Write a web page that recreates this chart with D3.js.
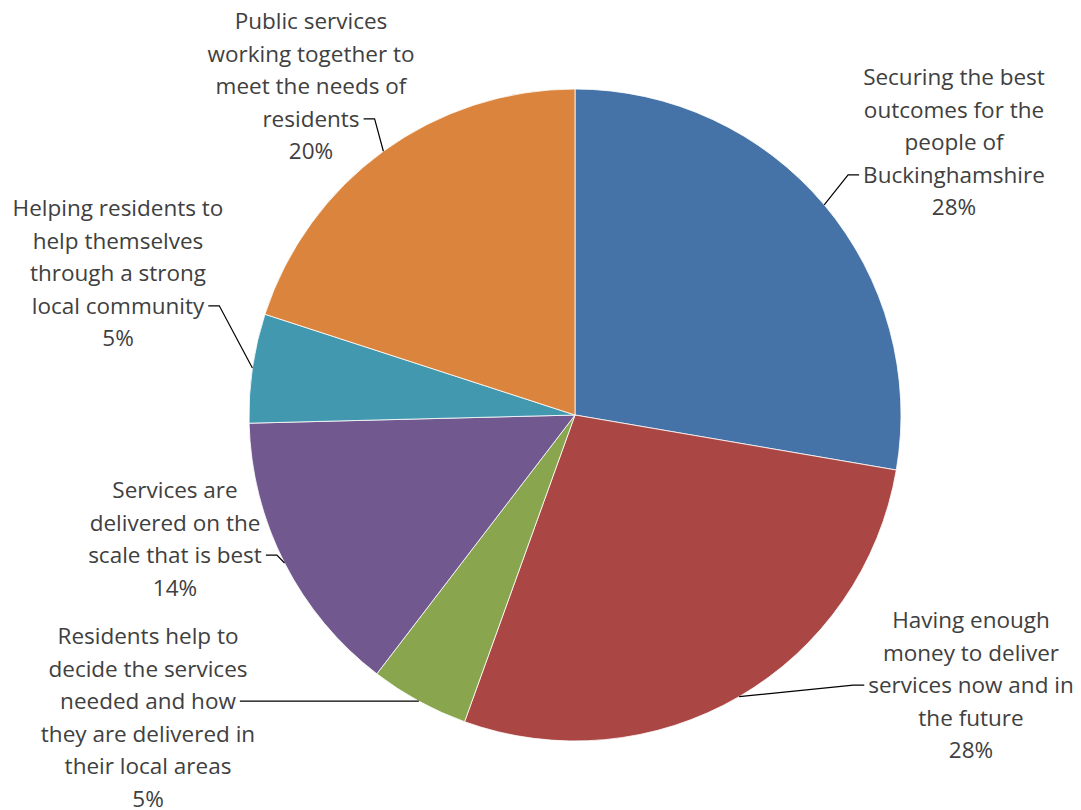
<!DOCTYPE html>
<html><head><meta charset="utf-8">
<script src="https://cdn.jsdelivr.net/npm/d3@7"></script>
<style>html,body{margin:0;padding:0;background:#fff;}svg{display:block;}</style>
</head><body>
<svg id="chart" width="1081" height="810"></svg>
<script>
const categories = [
  "Securing the best outcomes for the people of Buckinghamshire",
  "Having enough money to deliver services now and in the future",
  "Residents help to decide the services needed and how they are delivered in their local areas",
  "Services are delivered on the scale that is best",
  "Helping residents to help themselves through a strong local community",
  "Public services working together to meet the needs of residents"
];
const values = [27.7, 27.8, 4.9, 14.2, 5.4, 20.0];
const colors = ["#4572A7", "#AA4643", "#89A54E", "#71588F", "#4198AF", "#DB843D"];
// wrapped label lines as they appear
const labelLines = [
  ["Securing the best", "outcomes for the", "people of", "Buckinghamshire"],
  ["Having enough", "money to deliver", "services now and in", "the future"],
  ["Residents help to", "decide the services", "needed and how", "they are delivered in", "their local areas"],
  ["Services are", "delivered on the", "scale that is best"],
  ["Helping residents to", "help themselves", "through a strong", "local community"],
  ["Public services", "working together to", "meet the needs of", "residents"]
];
// label layout: text centre x, first baseline y, index of line the leader attaches to, side
const labelLayout = [
  {x: 954, y: 85, attach: 3, side: "left"},
  {x: 971, y: 628, attach: 2, side: "left"},
  {x: 148, y: 644, attach: 2, side: "right"},
  {x: 175, y: 498, attach: 2, side: "right"},
  {x: 118, y: 216, attach: 3, side: "right"},
  {x: 311, y: 29, attach: 3, side: "right"}
];

const svg = d3.select("#chart");
const cx = 575, cy = 415, R = 326, lineH = 32.6;
const fontFamily = "'Open Sans', sans-serif", fontSize = 22.5;

const data = categories.map((c, i) => ({name: c, value: values[i], color: colors[i], lines: labelLines[i], lay: labelLayout[i]}));
const pie = d3.pie().value(d => d.value).sort(null);
const arcs = pie(data);
const arc = d3.arc().innerRadius(0).outerRadius(R);

const g = svg.append("g").attr("transform", `translate(${cx},${cy})`);
g.selectAll("path.slice").data(arcs).join("path")
  .attr("class", "slice")
  .attr("d", arc)
  .attr("fill", d => d.data.color)
  .attr("stroke", "#fff").attr("stroke-width", 0.8);

// measure helper
const meas = svg.append("text").attr("font-family", fontFamily).attr("font-size", fontSize).attr("visibility", "hidden");
function textWidth(s) { meas.text(s); return meas.node().getComputedTextLength(); }

const total = d3.sum(values);
arcs.forEach(a => {
  const d = a.data, L = d.lay;
  const allLines = d.lines.concat([Math.round(d.value / total * 100) + "%"]);
  const t = svg.append("text")
    .attr("font-family", fontFamily).attr("font-size", fontSize)
    .attr("fill", "#404040").attr("text-anchor", "middle");
  allLines.forEach((ln, i) => {
    t.append("tspan").attr("x", L.x).attr("y", L.y + i * lineH).text(ln);
  });
  // leader line
  const mid = (a.startAngle + a.endAngle) / 2;
  const px = cx + R * Math.sin(mid), py = cy - R * Math.cos(mid);
  const w = textWidth(allLines[L.attach]);
  const ly = L.y + L.attach * lineH - 8;
  const ex = L.side === "left" ? L.x - w / 2 - 4 : L.x + w / 2 + 4;
  const kx = L.side === "left" ? ex - 11 : ex + 11;
  svg.append("path")
    .attr("d", `M${px},${py}L${kx},${ly}L${ex},${ly}`)
    .attr("fill", "none").attr("stroke", "#000").attr("stroke-width", 1.2);
});
meas.remove();
</script>
</body></html>
